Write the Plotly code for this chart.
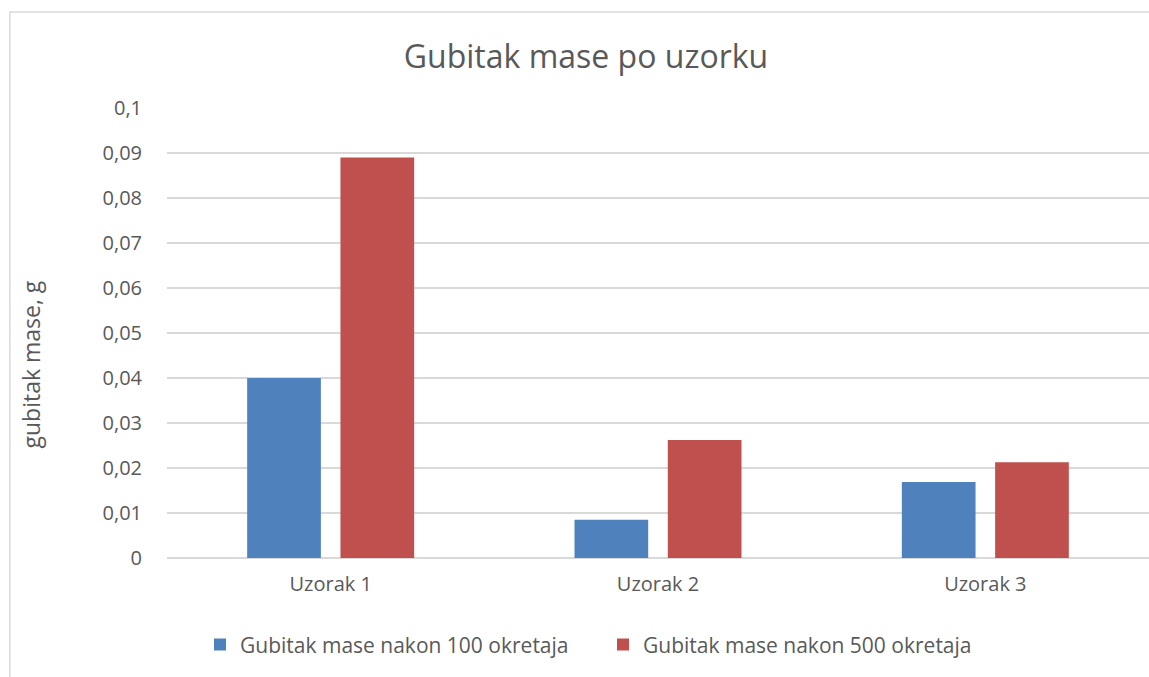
import plotly.graph_objects as go

categories = ["Uzorak 1", "Uzorak 2", "Uzorak 3"]
loss_100 = [0.040, 0.0085, 0.0169]
loss_500 = [0.0890, 0.0262, 0.0213]
series_names = ["Gubitak mase nakon 100 okretaja", "Gubitak mase nakon 500 okretaja"]
y_ticks = [0, 0.01, 0.02, 0.03, 0.04, 0.05, 0.06, 0.07, 0.08, 0.09, 0.1]
y_tick_labels = ["0", "0,01", "0,02", "0,03", "0,04", "0,05", "0,06", "0,07", "0,08", "0,09", "0,1"]
y_title = "gubitak mase, g"

FONT = "'Open Sans', Lato, sans-serif"
GREY = "#595959"

fig = go.Figure()
fig.add_trace(go.Bar(x=categories, y=loss_100, name=series_names[0],
                     marker=dict(color="#4F81BD", line=dict(width=0))))
fig.add_trace(go.Bar(x=categories, y=loss_500, name=series_names[1],
                     marker=dict(color="#C0504D", line=dict(width=0))))

fig.update_layout(
    width=1149, height=677,
    margin=dict(l=167, r=0, t=108, b=119),
    paper_bgcolor="white", plot_bgcolor="white",
    barmode="group", bargap=0.43, bargroupgap=0.21,
    font=dict(family=FONT, color=GREY, size=20),
    title=dict(text="Gubitak mase po uzorku", x=0.51, xref="container", xanchor="center",
               y=1 - 57 / 677, yref="container", yanchor="middle",
               font=dict(size=32, color=GREY, family=FONT)),
    showlegend=True,
    legend=dict(orientation="h", x=0.444, xanchor="center", y=-0.193, yanchor="middle",
                font=dict(size=21, color=GREY, family=FONT), itemwidth=30,
                entrywidth=358, entrywidthmode="pixels",
                traceorder="normal"),
    shapes=[dict(type="rect", xref="paper", yref="paper",
                 x0=-0.16, x1=1.01, y0=-0.3, y1=1.2133,
                 line=dict(color="#D9D9D9", width=1.5), layer="below")],
    annotations=[dict(text=y_title, textangle=-90, showarrow=False,
                      xref="paper", yref="paper", x=-0.1395, y=0.43,
                      xanchor="center", yanchor="middle",
                      font=dict(size=23, color=GREY, family=FONT))],
)
fig.update_xaxes(showgrid=False, showline=False, ticks="", tickfont=dict(size=20, color=GREY),
                 ticklabelstandoff=12)
fig.update_yaxes(range=[0, 0.1], tickvals=y_ticks, ticktext=y_tick_labels,
                 showgrid=True, gridcolor="#D9D9D9", gridwidth=1.5,
                 zeroline=True, zerolinecolor="#D9D9D9", zerolinewidth=1.5,
                 showline=False, ticks="", ticklabelstandoff=24,
                 tickfont=dict(size=20, color=GREY))

fig.write_html("out.html")
